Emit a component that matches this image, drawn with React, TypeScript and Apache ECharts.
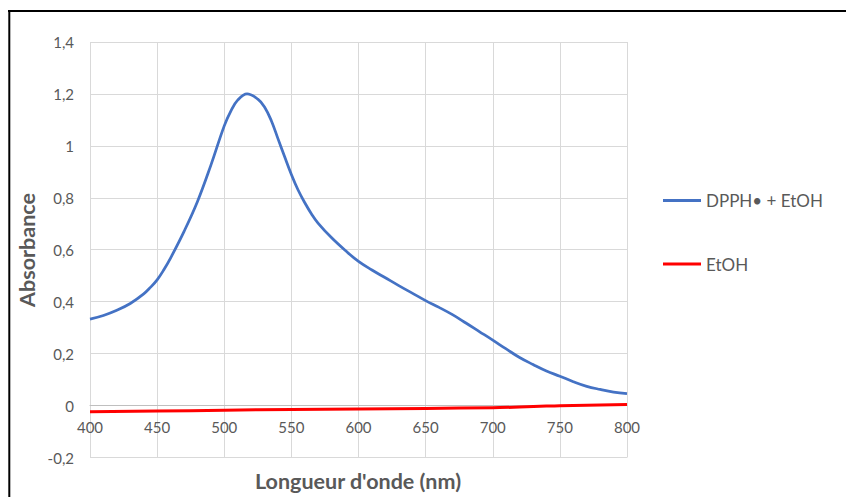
import React, { useEffect, useRef } from "react";
import * as echarts from "echarts";

const wavelengths = [400,410,420,430,440,445,450,455,460,470,480,490,500,505,510,517,525,530,535,540,545,550,555,560,565,570,580,590,600,610,620,630,640,650,660,670,680,690,700,710,720,730,740,750,760,770,780,790,800];
const dpphValues = [0.333,0.347,0.367,0.393,0.430,0.455,0.484,0.523,0.568,0.670,0.785,0.925,1.077,1.135,1.176,1.200,1.180,1.150,1.098,1.028,0.958,0.890,0.830,0.781,0.738,0.702,0.646,0.598,0.555,0.522,0.492,0.462,0.433,0.404,0.378,0.350,0.318,0.285,0.252,0.218,0.185,0.158,0.133,0.113,0.092,0.074,0.062,0.052,0.046];
const etohWavelengths = [400,450,500,550,600,650,700,720,740,750,800];
const etohValues = [-0.024,-0.021,-0.018,-0.015,-0.013,-0.011,-0.008,-0.006,-0.002,-0.001,0.004];
const seriesNames = ["DPPH\u2022 + EtOH", "EtOH"];
const xTitle = "Longueur d'onde (nm)";
const yTitle = "Absorbance";

const FONT = "Lato";
const TXT = "#595959";

export default function App() {
  const ref = useRef<HTMLDivElement>(null);
  useEffect(() => {
    const chart = echarts.init(ref.current!, null, { renderer: "svg" });
    const gridHeight = 415.5;
    chart.setOption({
      animation: false,
      backgroundColor: "#ffffff",
      textStyle: { fontFamily: FONT },
      grid: { left: 90, top: 42, width: 537, height: gridHeight, containLabel: false },
      legend: {
        orient: "vertical",
        left: 663,
        top: 192,
        padding: 0,
        icon: "rect",
        itemWidth: 38,
        itemHeight: 3,
        itemGap: 46.6,
        textStyle: { fontFamily: FONT, fontSize: 17, color: TXT },
        data: seriesNames,
      },
      xAxis: {
        type: "value",
        min: 400,
        max: 800,
        interval: 50,
        position: "bottom",
        offset: -gridHeight * 0.2 / 1.6,
        axisLine: { show: true, onZero: false, lineStyle: { color: "#bfbfbf", width: 1 } },
        axisTick: { show: false },
        axisLabel: { margin: 14, fontFamily: FONT, fontSize: 15, color: TXT },
        splitLine: { show: true, lineStyle: { color: "#d9d9d9", width: 1 } },
      },
      yAxis: {
        type: "value",
        min: -0.2,
        max: 1.4,
        interval: 0.2,
        axisLine: { show: false },
        axisTick: { show: false },
        axisLabel: {
          margin: 16,
          fontFamily: FONT,
          fontSize: 15,
          color: TXT,
          formatter: (v: number) => String(Math.round(v * 10) / 10).replace(".", ","),
        },
        splitLine: { show: true, lineStyle: { color: "#d9d9d9", width: 1 } },
      },
      series: [
        {
          name: seriesNames[0],
          type: "line",
          smooth: 0.4,
          symbol: "none",
          lineStyle: { color: "#4472C4", width: 2.75 },
          itemStyle: { color: "#4472C4" },
          data: wavelengths.map((w, i) => [w, dpphValues[i]]),
          z: 3,
        },
        {
          name: seriesNames[1],
          type: "line",
          smooth: 0.5,
          symbol: "none",
          lineStyle: { color: "#FF0000", width: 3 },
          itemStyle: { color: "#FF0000" },
          data: etohWavelengths.map((w, i) => [w, etohValues[i]]),
          z: 4,
        },
      ],
      graphic: [
        { type: "line", shape: { x1: 8, y1: 11, x2: 846, y2: 11 }, style: { stroke: "#000", lineWidth: 2 } },
        { type: "line", shape: { x1: 9.3, y1: 10, x2: 9.3, y2: 497 }, style: { stroke: "#000", lineWidth: 2 } },
        {
          type: "text",
          x: 358,
          y: 481,
          style: { text: xTitle, fontFamily: FONT, fontWeight: "bold", fontSize: 21.5, fill: TXT, align: "center", verticalAlign: "middle" },
        },
        {
          type: "text",
          x: 27,
          y: 250,
          rotation: Math.PI / 2,
          style: { text: yTitle, fontFamily: FONT, fontWeight: "bold", fontSize: 21.5, fill: TXT, align: "center", verticalAlign: "middle" },
        },
      ],
    });
    return () => chart.dispose();
  }, []);
  return (
    <div style={{ position: "absolute", left: 0, top: 0, width: 846, height: 497, background: "#fff" }}>
      <div ref={ref} style={{ width: 846, height: 497 }} />
    </div>
  );
}
